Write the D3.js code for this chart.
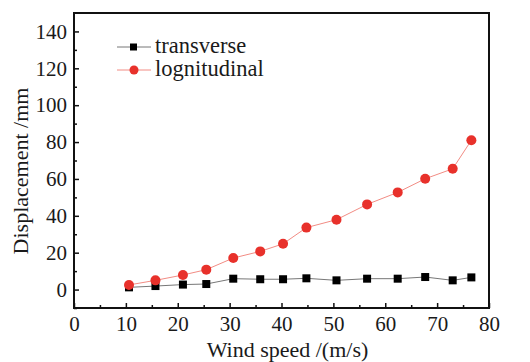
<!DOCTYPE html>
<html>
<head>
<meta charset="utf-8">
<script src="https://cdn.jsdelivr.net/npm/d3@7"></script>
<style>
  body { margin: 0; background: #fff; }
  text { font-family: "Liberation Serif", "Times New Roman", serif; fill: #1a1a1a; }
</style>
</head>
<body>
<div id="chart"></div>
<script>
// wind speed (m/s)
var windSpeed = [10.6, 15.7, 21.0, 25.5, 30.7, 35.9, 40.3, 44.8, 50.6, 56.5, 62.4, 67.7, 73.0, 76.6];
// displacement (mm)
var transverse = [1.2, 1.9, 2.7, 3.0, 5.9, 5.6, 5.6, 6.1, 5.0, 5.9, 5.9, 6.8, 5.0, 6.6];
var lognitudinal = [2.5, 5.0, 7.9, 10.8, 17.1, 20.7, 24.8, 33.6, 37.9, 46.2, 52.7, 60.1, 65.5, 81.0];
var xTicks = [0, 10, 20, 30, 40, 50, 60, 70, 80];
var yTicks = [0, 20, 40, 60, 80, 100, 120, 140];
var seriesNames = ["transverse", "lognitudinal"];

var w = 530, h = 362;
var margin = {top: 13, right: 41, bottom: 54, left: 74};
var iw = w - margin.left - margin.right;
var ih = h - margin.top - margin.bottom;

var svg = d3.select("#chart").append("svg")
  .attr("width", w).attr("height", h);

var g = svg.append("g")
  .attr("transform", "translate(" + margin.left + "," + margin.top + ")");

var x = d3.scaleLinear().domain([0, 80]).range([0, iw]);
var y = d3.scaleLinear().domain([-10, 150]).range([ih, 0]);

// minor ticks
g.append("g")
  .attr("transform", "translate(0," + ih + ")")
  .call(d3.axisBottom(x).tickValues(d3.range(5, 80, 10)).tickSize(-3).tickFormat(""))
  .call(s => s.select(".domain").remove());
g.append("g")
  .call(d3.axisLeft(y).tickValues(d3.range(-10, 150, 20)).tickSize(-3).tickFormat(""))
  .call(s => s.select(".domain").remove());

// major ticks
var xAxis = g.append("g")
  .attr("transform", "translate(0," + ih + ")")
  .call(d3.axisBottom(x).tickValues(xTicks).tickSize(-5).tickPadding(8));
xAxis.select(".domain").remove();
xAxis.selectAll("text").attr("font-size", 21).attr("fill", "#1a1a1a");

var yAxis = g.append("g")
  .call(d3.axisLeft(y).tickValues(yTicks).tickSize(-5).tickPadding(7));
yAxis.select(".domain").remove();
yAxis.selectAll("text").attr("font-size", 21).attr("fill", "#1a1a1a");

g.selectAll(".tick line").attr("stroke", "#111").attr("stroke-width", 1.5);

// frame
g.append("rect")
  .attr("width", iw).attr("height", ih)
  .attr("fill", "none").attr("stroke", "#111").attr("stroke-width", 2);

var line = d3.line()
  .x((d, i) => x(windSpeed[i]))
  .y(d => y(d));

// lognitudinal
g.append("path")
  .datum(lognitudinal)
  .attr("d", line)
  .attr("fill", "none").attr("stroke", "#f28c84").attr("stroke-width", 1);

// transverse
g.append("path")
  .datum(transverse)
  .attr("d", line)
  .attr("fill", "none").attr("stroke", "#777").attr("stroke-width", 1);

g.selectAll(".sq")
  .data(transverse)
  .enter().append("rect")
  .attr("class", "sq")
  .attr("x", (d, i) => x(windSpeed[i]) - 4)
  .attr("y", d => y(d) - 4)
  .attr("width", 8).attr("height", 8)
  .attr("fill", "#000");

g.selectAll(".dot")
  .data(lognitudinal)
  .enter().append("circle")
  .attr("class", "dot")
  .attr("cx", (d, i) => x(windSpeed[i]))
  .attr("cy", d => y(d))
  .attr("r", 5)
  .attr("fill", "#e8312b");

// legend
var legend = svg.append("g").attr("transform", "translate(117,0)");
var legRows = [
  {name: seriesNames[0], y: 47, line: "#777", fill: "#000", shape: "square"},
  {name: seriesNames[1], y: 70, line: "#f28c84", fill: "#e8312b", shape: "circle"}
];
legRows.forEach(function(r) {
  legend.append("line")
    .attr("x1", 0).attr("x2", 34).attr("y1", r.y).attr("y2", r.y)
    .attr("stroke", r.line).attr("stroke-width", 1);
  if (r.shape === "square") {
    legend.append("rect").attr("x", 13).attr("y", r.y - 3.5)
      .attr("width", 7).attr("height", 7).attr("fill", r.fill);
  } else {
    legend.append("circle").attr("cx", 17).attr("cy", r.y).attr("r", 4.5).attr("fill", r.fill);
  }
  legend.append("text")
    .attr("x", 38).attr("y", r.y + 6)
    .attr("font-size", 22.5)
    .text(r.name);
});

// axis titles
svg.append("text")
  .attr("x", margin.left + iw / 2 + 6)
  .attr("y", 357)
  .attr("text-anchor", "middle")
  .attr("font-size", 22)
  .text("Wind speed /(m/s)");

svg.append("text")
  .attr("text-anchor", "middle")
  .attr("transform", "translate(28,171) rotate(-90)")
  .attr("font-size", 22)
  .text("Displacement /mm");
</script>
</body>
</html>
